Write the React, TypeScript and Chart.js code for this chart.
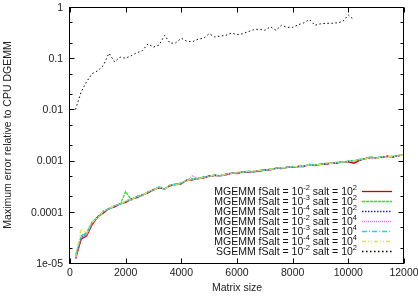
import { useEffect, useRef } from "react";
import { Chart, registerables } from "chart.js";

Chart.register(...registerables);

// Matrix sizes (x values)
const MATRIX_SIZES = [
  200, 400, 600, 800, 1000, 1200, 1400, 1600, 1800, 2000,
  2200, 2400, 2600, 2800, 3000, 3200, 3400, 3600, 3800, 4000,
  4200, 4400, 4600, 4800, 5000, 5200, 5400, 5600, 5800, 6000,
  6200, 6400, 6600, 6800, 7000, 7200, 7400, 7600, 7800, 8000,
  8200, 8400, 8600, 8800, 9000, 9200, 9400, 9600, 9800, 10000,
  10200, 10400, 10600, 10800, 11000, 11200, 11400, 11600, 11800, 12000,
];
const SGEMM_SIZES = [
  200, 400, 600, 800, 1000, 1200, 1400, 1600, 1800, 2000,
  2200, 2400, 2600, 2800, 3000, 3200, 3400, 3600, 3800, 4000,
  4200, 4400, 4600, 4800, 5000, 5200, 5400, 5600, 5800, 6000,
  6200, 6400, 6600, 6800, 7000, 7200, 7400, 7600, 7800, 8000,
  8200, 8400, 8600, 8800, 9000, 9200, 9400, 9600, 9800, 10000,
  10200,
];

// MGEMM errors, in units of 1e-4
const MGEMM_UNIT = 1e-4;
const mgemmF2S2 = [
  0.12, 0.29, 0.34, 0.57, 0.80, 0.95, 1.16, 1.24, 1.43, 1.52,
  1.78, 1.90, 2.14, 2.33, 2.72, 2.92, 2.80, 3.22, 3.46, 3.52,
  4.18, 4.22, 4.48, 4.60, 5.00, 5.08, 5.10, 5.28, 5.70, 5.60,
  6.02, 5.98, 6.12, 6.20, 6.62, 6.58, 7.12, 6.98, 7.42, 7.38,
  7.74, 7.66, 8.44, 7.96, 8.56, 8.54, 8.96, 8.94, 9.56, 9.40,
  8.90, 10.1, 10.9, 11.4, 11.4, 11.6, 12.2, 11.7, 12.6, 12.6,
];
const mgemmF3S2 = [
  0.14, 0.33, 0.40, 0.64, 0.76, 1.04, 1.12, 1.33, 1.38, 2.50,
  1.70, 2.01, 2.06, 2.48, 2.62, 3.10, 2.70, 3.40, 3.34, 3.70,
  4.02, 4.42, 4.34, 4.84, 4.86, 5.34, 4.92, 5.54, 5.56, 5.86,
  5.84, 6.28, 5.94, 6.46, 6.44, 6.88, 6.94, 7.30, 7.24, 7.68,
  7.54, 8.00, 8.22, 8.30, 8.32, 8.92, 8.74, 9.32, 9.30, 9.86,
  9.84, 10.6, 10.7, 11.9, 11.1, 12.1, 11.9, 12.2, 12.3, 13.1,
];
const mgemmF4S2 = [
  0.13, 0.31, 0.37, 0.61, 0.81, 0.97, 1.17, 1.26, 1.44, 1.55,
  1.77, 1.92, 2.13, 2.36, 2.70, 2.96, 2.79, 3.26, 3.44, 3.56,
  4.15, 4.26, 4.45, 4.66, 4.97, 5.14, 5.06, 5.34, 5.68, 5.66,
  5.98, 6.06, 6.08, 6.26, 6.58, 6.66, 7.08, 7.06, 7.38, 7.46,
  7.68, 7.74, 8.38, 8.06, 8.48, 8.64, 8.88, 9.06, 9.48, 9.54,
  9.98, 10.2, 10.9, 11.5, 11.3, 11.7, 12.1, 11.8, 12.5, 12.7,
];
const mgemmF2S4 = [
  0.12, 0.32, 0.35, 0.62, 0.77, 1.01, 1.13, 1.30, 1.39, 1.60,
  1.73, 1.97, 2.09, 2.42, 2.66, 3.02, 2.74, 3.32, 3.38, 3.62,
  4.08, 5.05, 4.38, 4.74, 4.90, 5.22, 4.98, 5.42, 5.60, 5.74,
  5.90, 6.14, 6.00, 6.34, 6.50, 6.74, 7.00, 7.14, 7.30, 7.54,
  7.60, 7.84, 8.30, 8.14, 8.40, 8.74, 8.80, 9.14, 9.40, 9.64,
  9.90, 10.4, 10.7, 11.7, 11.2, 11.9, 11.9, 12.0, 12.4, 12.9,
];
const mgemmF3S4 = [
  0.14, 0.34, 0.39, 0.63, 0.79, 1.03, 1.15, 1.32, 1.41, 1.63,
  1.76, 1.99, 2.11, 2.45, 2.69, 3.06, 2.77, 3.36, 3.41, 3.66,
  4.12, 4.36, 4.42, 4.78, 4.94, 5.28, 5.02, 5.48, 5.64, 5.80,
  5.94, 6.20, 6.04, 6.40, 6.54, 6.80, 7.04, 7.22, 7.34, 7.62,
  7.64, 7.92, 8.34, 8.22, 8.44, 8.82, 8.84, 9.22, 9.44, 9.74,
  9.94, 10.5, 10.8, 11.8, 11.3, 12.0, 12.0, 12.1, 12.5, 13.0,
];
const mgemmF4S4 = [
  0.13, 0.47, 0.38, 0.62, 0.78, 1.02, 1.14, 1.31, 1.40, 1.62,
  1.75, 1.98, 2.10, 2.44, 2.67, 3.04, 2.76, 3.34, 3.40, 3.64,
  4.10, 4.34, 4.40, 4.76, 4.92, 5.26, 5.00, 5.46, 5.62, 5.78,
  5.92, 6.18, 6.02, 6.38, 6.52, 6.78, 7.02, 7.20, 7.32, 7.60,
  7.62, 7.90, 8.32, 8.20, 8.42, 8.80, 8.82, 9.20, 9.42, 9.72,
  9.92, 10.4, 10.8, 11.7, 11.2, 11.9, 12.0, 12.0, 12.4, 12.9,
];
const sgemmF2S2 = [
  0.010, 0.022, 0.035, 0.050, 0.057, 0.072, 0.125, 0.085, 0.105, 0.100,
  0.112, 0.128, 0.140, 0.190, 0.165, 0.180, 0.280, 0.195, 0.200, 0.245,
  0.215, 0.210, 0.235, 0.245, 0.300, 0.260, 0.270, 0.280, 0.310, 0.290,
  0.300, 0.330, 0.360, 0.370, 0.350, 0.410, 0.350, 0.440, 0.400, 0.400,
  0.450, 0.490, 0.570, 0.440, 0.470, 0.480, 0.480, 0.490, 0.520, 0.700,
  0.560,
];

// Legend parts
const SERIES_NAMES = ["MGEMM", "MGEMM", "MGEMM", "MGEMM", "MGEMM", "MGEMM", "SGEMM"];
const FSALT_EXP = ["-2", "-3", "-4", "-2", "-3", "-4", "-2"];
const SALT_EXP = ["2", "2", "2", "4", "4", "4", "2"];

// Ticks
const X_TICKS = [0, 2000, 4000, 6000, 8000, 10000, 12000];
const Y_TICKS = [1e-5, 1e-4, 1e-3, 1e-2, 1e-1, 1];
const Y_TICK_LABELS = ["1e-05", "0.0001", "0.001", "0.01", "0.1", "1"];
const Y_MINOR_DIGITS = [2, 5];

const X_TITLE = "Matrix size";
const Y_TITLE = "Maximum error relative to CPU DGEMM";

// Styles
const COLORS = ["#cc0000", "#33dd33", "#2222aa", "#dd77dd", "#22d8d8", "#e0e040", "#000000"];
const DASHES: number[][] = [[], [3, 1], [1.5, 1.5], [1, 1], [5, 2, 1, 2], [4, 2, 1, 2, 1, 2], [1.5, 2.5]];
const FONT = '"Liberation Sans", Arial, sans-serif';
const FS = 10.5;
const SUP_FS = 7.5;
const LW = 1.3;

const SUPS: Record<string, string> = { "-": "⁻", "2": "²", "3": "³", "4": "⁴" };
const sup = (s: string) => s.split("").map((c) => SUPS[c] || c).join("");

function toPoints(xs: number[], ys: number[], unit: number) {
  return xs.map((x, i) => ({ x, y: ys[i] * unit }));
}

const framePlugin = {
  id: "gnuFrame",
  afterDraw(chart: any) {
    const { ctx, chartArea: a, scales } = chart;
    const xs = scales.x;
    const ys = scales.y;
    ctx.save();
    ctx.strokeStyle = "#000";
    ctx.lineWidth = 1;
    ctx.setLineDash([]);
    const L = Math.round(a.left) - 0.5;
    const R = Math.round(a.right) - 0.5;
    const T = Math.round(a.top) + 0.5;
    const B = Math.round(a.bottom) + 0.5;
    ctx.strokeRect(L, T, R - L, B - T);
    ctx.beginPath();
    const major = 5;
    const minor = 3;
    for (const v of X_TICKS) {
      const px = Math.round(xs.getPixelForValue(v)) + 0.5;
      ctx.moveTo(px, B);
      ctx.lineTo(px, B - major);
      ctx.moveTo(px, T);
      ctx.lineTo(px, T + major);
    }
    for (const v of Y_TICKS) {
      const py = Math.round(ys.getPixelForValue(v)) + 0.5;
      ctx.moveTo(L, py);
      ctx.lineTo(L + major, py);
      ctx.moveTo(R, py);
      ctx.lineTo(R - major, py);
    }
    for (let i = 0; i < Y_TICKS.length - 1; i++) {
      for (const d of Y_MINOR_DIGITS) {
        const py = Math.round(ys.getPixelForValue(Y_TICKS[i] * d)) + 0.5;
        ctx.moveTo(L, py);
        ctx.lineTo(L + minor, py);
        ctx.moveTo(R, py);
        ctx.lineTo(R - minor, py);
      }
    }
    ctx.stroke();

    // Y tick labels, right-aligned left of the frame
    ctx.fillStyle = "#222";
    ctx.font = `${FS}px ${FONT}`;
    ctx.textAlign = "right";
    ctx.textBaseline = "middle";
    Y_TICKS.forEach((v, i) => {
      ctx.fillText(Y_TICK_LABELS[i], a.left - 7, ys.getPixelForValue(v) + 1);
    });

    // Legend (inside, bottom-right)
    const textRight = a.right - 47;
    const sampleL = a.right - 42;
    const sampleR = a.right - 12;
    const rowH = 10;
    const firstY = a.bottom - 72.5;
    chart.data.datasets.forEach((_ds: any, i: number) => {
      const y = firstY + i * rowH;
      const parts = [
        { t: SERIES_NAMES[i] + " fSalt = 10", s: false },
        { t: FSALT_EXP[i], s: true },
        { t: " salt = 10", s: false },
        { t: SALT_EXP[i], s: true },
      ];
      let total = 0;
      const widths = parts.map((p) => {
        ctx.font = `${p.s ? SUP_FS : FS}px ${FONT}`;
        const w = ctx.measureText(p.t).width;
        total += w;
        return w;
      });
      let x = textRight - total;
      ctx.fillStyle = "#111";
      ctx.textAlign = "left";
      ctx.textBaseline = "middle";
      parts.forEach((p, k) => {
        ctx.font = `${p.s ? SUP_FS : FS}px ${FONT}`;
        ctx.fillText(p.t, x, p.s ? y - 2.5 : y + 1.5);
        x += widths[k];
      });
      ctx.beginPath();
      ctx.strokeStyle = COLORS[i];
      ctx.lineWidth = LW;
      ctx.setLineDash(DASHES[i]);
      const ly = Math.round(y) + 0.5;
      ctx.moveTo(sampleL, ly);
      ctx.lineTo(sampleR, ly);
      ctx.stroke();
    });
    ctx.restore();
  },
};

export default function App() {
  const ref = useRef<HTMLCanvasElement | null>(null);

  useEffect(() => {
    if (!ref.current) return;
    const mgemm = [mgemmF2S2, mgemmF3S2, mgemmF4S2, mgemmF2S4, mgemmF3S4, mgemmF4S4];
    const datasets: any[] = mgemm.map((vals, i) => ({
      label: `${SERIES_NAMES[i]} fSalt = 10${sup(FSALT_EXP[i])} salt = 10${sup(SALT_EXP[i])}`,
      data: toPoints(MATRIX_SIZES, vals, MGEMM_UNIT),
      borderColor: COLORS[i],
      borderDash: DASHES[i],
      borderWidth: LW,
      pointRadius: 0,
      fill: false,
      tension: 0,
      order: 10 - i,
    }));
    datasets.push({
      label: `${SERIES_NAMES[6]} fSalt = 10${sup(FSALT_EXP[6])} salt = 10${sup(SALT_EXP[6])}`,
      data: toPoints(SGEMM_SIZES, sgemmF2S2, 1),
      borderColor: COLORS[6],
      borderDash: DASHES[6],
      borderWidth: 1,
      pointRadius: 0,
      fill: false,
      tension: 0,
      order: 1,
    });

    const chart = new Chart(ref.current, {
      type: "line",
      data: { datasets },
      options: {
        animation: false,
        responsive: true,
        maintainAspectRatio: false,
        layout: { padding: { left: 0, right: 14, top: 7, bottom: 0 } },
        plugins: { legend: { display: false }, tooltip: { enabled: false } },
        scales: {
          x: {
            type: "linear",
            min: 0,
            max: 12000,
            afterBuildTicks: (s: any) => {
              s.ticks = X_TICKS.map((v) => ({ value: v }));
            },
            afterFit: (s: any) => {
              s.height = 33;
              s.paddingLeft = 0;
              s.paddingRight = 0;
            },
            grid: { display: false, drawTicks: false },
            border: { display: false },
            ticks: {
              color: "#222",
              font: { family: FONT, size: FS },
              padding: 4,
              maxRotation: 0,
              autoSkip: false,
              callback: (v: any) => String(v),
            },
            title: {
              display: true,
              text: X_TITLE,
              color: "#222",
              font: { family: FONT, size: FS },
              padding: { top: 0, bottom: 2 },
            },
          },
          y: {
            type: "logarithmic",
            min: 1e-5,
            max: 1,
            afterBuildTicks: (s: any) => {
              s.ticks = Y_TICKS.map((v) => ({ value: v }));
            },
            afterFit: (s: any) => {
              s.width = 70;
              s.paddingTop = 0;
              s.paddingBottom = 0;
            },
            grid: { display: false, drawTicks: false },
            border: { display: false },
            ticks: { display: false },
            title: {
              display: true,
              text: Y_TITLE,
              color: "#222",
              font: { family: FONT, size: FS },
              padding: { top: 2, bottom: 0 },
            },
          },
        },
      },
      plugins: [framePlugin],
    });
    return () => chart.destroy();
  }, []);

  return (
    <div style={{ position: "absolute", left: 0, top: 0, width: 418, height: 296, background: "#fff" }}>
      <canvas ref={ref} />
    </div>
  );
}
